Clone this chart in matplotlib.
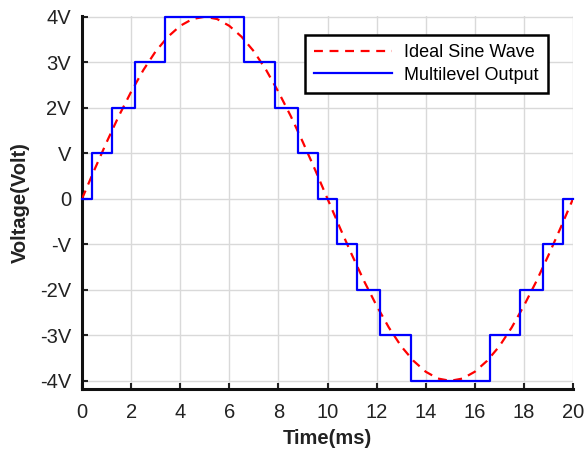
import matplotlib.pyplot as plt

plt.rcParams['font.family'] = ['Liberation Sans', 'DejaVu Sans']

sine_t = [0, 0.5, 1, 1.5, 2, 2.5, 3, 3.5, 4, 4.5, 5, 5.5, 6, 6.5, 7, 7.5, 8, 8.5, 9, 9.5,
          10, 10.5, 11, 11.5, 12, 12.5, 13, 13.5, 14, 14.5, 15, 15.5, 16, 16.5, 17, 17.5,
          18, 18.5, 19, 19.5, 20]
sine_v = [0, 0.63, 1.24, 1.82, 2.35, 2.83, 3.24, 3.56, 3.80, 3.95, 4.0, 3.95, 3.80, 3.56,
          3.24, 2.83, 2.35, 1.82, 1.24, 0.63, 0, -0.63, -1.24, -1.82, -2.35, -2.83, -3.24,
          -3.56, -3.80, -3.95, -4.0, -3.95, -3.80, -3.56, -3.24, -2.83, -2.35, -1.82, -1.24,
          -0.63, 0]

# Multilevel staircase: switching instants (ms) and level held after each one
step_t = [0, 0.4, 1.22, 2.15, 3.39, 6.61, 7.85, 8.78, 9.6, 10.4, 11.22, 12.15, 13.39,
          16.61, 17.85, 18.78, 19.6, 20]
step_v = [0, 1, 2, 3, 4, 3, 2, 1, 0, -1, -2, -3, -4, -3, -2, -1, 0, 0]

yticks = [-4, -3, -2, -1, 0, 1, 2, 3, 4]
ytick_labels = ['-4V', '-3V', '-2V', '-V', '0', 'V', '2V', '3V', '4V']
xticks = [0, 2, 4, 6, 8, 10, 12, 14, 16, 18, 20]

fig = plt.figure(figsize=(5.87, 4.55), dpi=100)
ax = fig.add_axes([0.1397, 0.145, 0.8365, 0.8197])

ax.plot(sine_t, sine_v, color='#ff0000', linestyle=(0, (4, 3)), linewidth=1.6,
        label='Ideal Sine Wave', zorder=3)
ax.step(step_t, step_v, where='post', color='#0000ff', linewidth=1.6,
        label='Multilevel Output', zorder=4, clip_on=False)

ax.set_xlim(0, 20)
ax.set_ylim(-4.18, 4.015)
ax.set_xticks(xticks)
ax.set_yticks(yticks)
ax.set_yticklabels(ytick_labels)
ax.tick_params(direction='in', length=4, width=1.5, labelsize=14.5, colors='#222222',
               top=False, right=False)
ax.tick_params(axis='x', pad=10)
ax.tick_params(axis='y', pad=8)
ax.grid(True, color='#d9d9d9', linewidth=1.0)
ax.set_axisbelow(True)

for side in ['top', 'right']:
    ax.spines[side].set_visible(False)
for side in ['left', 'bottom']:
    ax.spines[side].set_linewidth(2.2)
    ax.spines[side].set_color('#111111')

ax.set_xlabel('Time(ms)', fontsize=14.5, fontweight='bold', color='#222222', labelpad=5)
ax.set_ylabel('Voltage(Volt)', fontsize=14.5, fontweight='bold', color='#222222', labelpad=7)

leg = ax.legend(loc='upper right', bbox_to_anchor=(0.949, 0.949), borderaxespad=0,
                fontsize=13, fancybox=False, framealpha=1, edgecolor='black',
                handlelength=4.3, borderpad=0.5, labelspacing=0.3, handletextpad=0.7)
leg.get_frame().set_linewidth(1.8)

fig.savefig('out.png', dpi=100)
